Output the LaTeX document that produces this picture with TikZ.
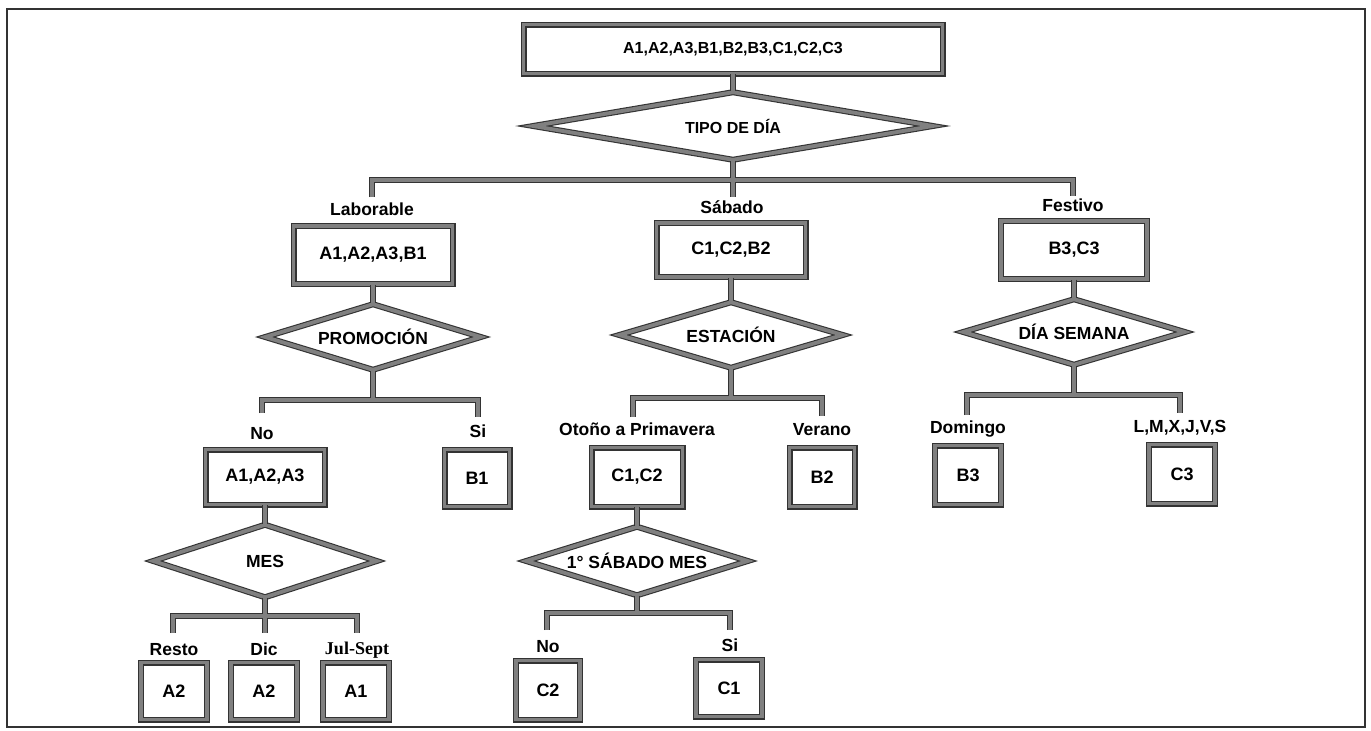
\documentclass[tikz,border=0pt]{standalone}
\usepackage{fontspec}
\setmainfont{Liberation Sans}
\newfontfamily\timesf{Liberation Serif}
\usetikzlibrary{shapes.geometric}
\definecolor{edgecol}{HTML}{333333}
\definecolor{bandcol}{HTML}{808080}
\tikzset{
  box/.style={rectangle, draw=edgecol, double=bandcol, double distance=3.8pt, line width=1.1pt,
    fill=white, inner sep=0pt, font=\fontsize{18}{20}\selectfont\bfseries},
  dec/.style={diamond, aspect=3.5, draw=edgecol, double=bandcol, double distance=3.8pt, line width=1.1pt,
    fill=white, inner sep=0pt, font=\fontsize{17.5}{20}\selectfont\bfseries},
  lbl/.style={anchor=base, inner sep=1pt, font=\fontsize{17.5}{20}\selectfont\bfseries},
}
\newcommand\treeconns[1]{%
  \draw[#1] (top.south) -- (d0.north);
  \draw[#1] (d0.south) -- (j0);
  \draw[#1] (eLab) |- (j0) -| (eFes);
  \draw[#1] (j0) -- (eSab);
  \draw[#1] (bL.south) -- (dL.north);
  \draw[#1] (dL.south) -- (jL);
  \draw[#1] (eNo) |- (jL) -| (eSi);
  \draw[#1] (bS.south) -- (dS.north);
  \draw[#1] (dS.south) -- (jS);
  \draw[#1] (eOto) |- (jS) -| (eVer);
  \draw[#1] (bF.south) -- (dF.north);
  \draw[#1] (dF.south) -- (jF);
  \draw[#1] (eDom) |- (jF) -| (eLM);
  \draw[#1] (bNo.south) -- (dM.north);
  \draw[#1] (dM.south) -- (jM);
  \draw[#1] (eRes) |- (jM) -| (eJul);
  \draw[#1] (jM) -- (eDic);
  \draw[#1] (bC12.south) -- (dSab.north);
  \draw[#1] (dSab.south) -- (jSab);
  \draw[#1] (eNo2) |- (jSab) -| (eSi2);
}
\begin{document}
\begin{tikzpicture}[x=1pt,y=-1pt]
\useasboundingbox (0,0) rectangle (1371,731);
\fill[white] (0,0) rectangle (1371,731);
\draw[line width=1.3pt, edgecol] (7,9) rectangle (1365,727);

% level 0
\node[box, minimum width=419pt, minimum height=49pt, font=\fontsize{16}{18}\selectfont\bfseries] (top) at (733,49) {A1,A2,A3,B1,B2,B3,C1,C2,C3};
\node[dec, aspect=6, minimum width=400pt, minimum height=68pt, font=\fontsize{16}{18}\selectfont\bfseries] (d0) at (733,126) {TIPO DE DÍA};

% level 1
\node[lbl] (lLab) at (372,215) {Laborable};
\node[lbl] (lSab) at (732,213) {Sábado};
\node[lbl] (lFes) at (1073,211) {Festivo};
\node[box, minimum width=159pt, minimum height=58pt] (bL) at (373,255) {A1,A2,A3,B1};
\node[box, minimum width=149pt, minimum height=54pt] (bS) at (731,250) {C1,C2,B2};
\node[box, minimum width=146pt, minimum height=58pt] (bF) at (1074,250) {B3,C3};
\node[dec, minimum width=216pt, minimum height=66pt] (dL) at (373,337) {PROMOCIÓN};
\node[dec, minimum width=224pt, minimum height=66pt] (dS) at (731,335) {ESTACIÓN};
\node[dec, minimum width=222pt, minimum height=66pt] (dF) at (1074,332) {DÍA SEMANA};

% level 2
\node[lbl] (lNo) at (262,439) {No};
\node[lbl] (lSi) at (478,437) {Si};
\node[lbl] (lOto) at (637,435) {Otoño a Primavera};
\node[lbl] (lVer) at (822,435) {Verano};
\node[lbl] (lDom) at (968,433) {Domingo};
\node[lbl] (lLM) at (1180,432) {L,M,X,J,V,S};
\node[box, minimum width=119pt, minimum height=55pt] (bNo) at (265,477) {A1,A2,A3};
\node[box, minimum width=65pt, minimum height=57pt] (bB1) at (477,478) {B1};
\node[box, minimum width=91pt, minimum height=59pt] (bC12) at (637,477) {C1,C2};
\node[box, minimum width=65pt, minimum height=59pt] (bB2) at (822,477) {B2};
\node[box, minimum width=66pt, minimum height=59pt] (bB3) at (968,475) {B3};
\node[box, minimum width=66pt, minimum height=59pt] (bC3) at (1182,474) {C3};
\node[dec, minimum width=224pt, minimum height=73pt] (dM) at (265,561) {MES};
\node[dec, minimum width=222pt, minimum height=69pt] (dSab) at (637,561) {1° SÁBADO MES};

% level 3
\node[lbl] (lRes) at (174,655) {Resto};
\node[lbl] (lDic) at (264,655) {Dic};
\node[lbl, font=\fontsize{18}{20}\selectfont\timesf\bfseries] (lJul) at (357,654) {Jul-Sept};
\node[lbl] (lNo2) at (548,652) {No};
\node[lbl] (lSi2) at (730,651) {Si};
\node[box, minimum width=66pt, minimum height=57pt] (bR) at (174,691) {A2};
\node[box, minimum width=66pt, minimum height=57pt] (bD) at (264,691) {A2};
\node[box, minimum width=66pt, minimum height=57pt] (bJ) at (356,691) {A1};
\node[box, minimum width=64pt, minimum height=59pt] (bC2) at (548,690) {C2};
\node[box, minimum width=66pt, minimum height=57pt] (bC1) at (729,688) {C1};

% junctions and branch ends
\coordinate (j0) at (733,180);
\coordinate (eLab) at (372,197);
\coordinate (eSab) at (733,197);
\coordinate (eFes) at (1073,196);
\coordinate (jL) at (373,400);
\coordinate (eNo) at (262,413);
\coordinate (eSi) at (478,417);
\coordinate (jS) at (731,398);
\coordinate (eOto) at (633,417);
\coordinate (eVer) at (822,416);
\coordinate (jF) at (1074,395);
\coordinate (eDom) at (967,415);
\coordinate (eLM) at (1180,413);
\coordinate (jM) at (265,616);
\coordinate (eRes) at (173,633);
\coordinate (eDic) at (265,633);
\coordinate (eJul) at (357,633);
\coordinate (jSab) at (637,613);
\coordinate (eNo2) at (547,630);
\coordinate (eSi2) at (730,630);

\treeconns{line width=6pt, draw=edgecol}
\treeconns{line width=3.8pt, draw=bandcol}
\end{tikzpicture}
\end{document}
